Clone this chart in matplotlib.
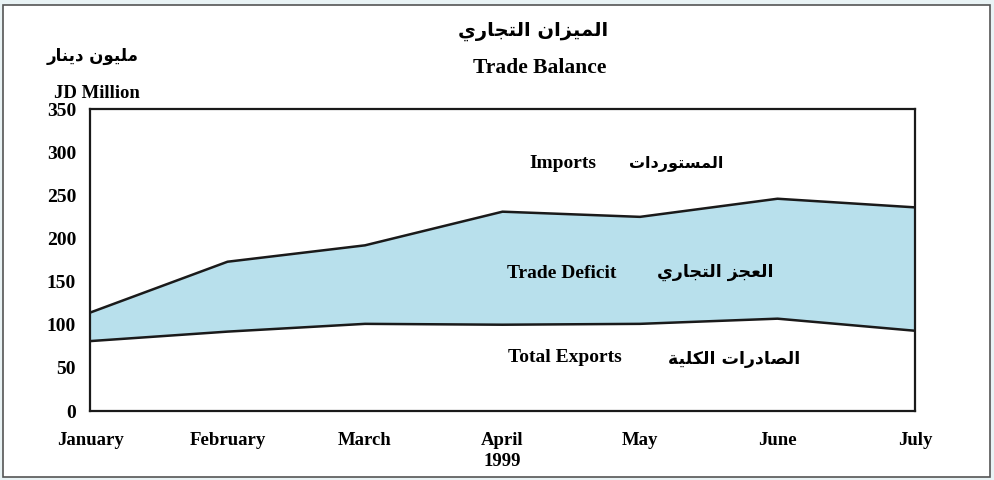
import numpy as np
import matplotlib
matplotlib.use("Agg")
import matplotlib.pyplot as plt
from matplotlib.patches import Rectangle

months = ["January", "February", "March", "April\n1999", "May", "June", "July"]
imports = [114, 173, 192, 231, 225, 246, 236]
exports = [81, 92, 101, 100, 101, 107, 93]
y_ticks = [0, 50, 100, 150, 200, 250, 300, 350]

title_ar = "الميزان التجاري"
title_en = "Trade Balance"
unit_ar = "مليون دينار"
unit_en = "JD Million"
imports_ar = "المستوردات"
deficit_ar = "العجز التجاري"
exports_ar = "الصادرات الكلية"

# presentation forms: isolated, final, initial, medial
FORMS = {
    "ا": ("\uFE8D", "\uFE8E", None, None),
    "ب": ("\uFE8F", "\uFE90", "\uFE91", "\uFE92"),
    "ة": ("\uFE93", "\uFE94", None, None),
    "ت": ("\uFE95", "\uFE96", "\uFE97", "\uFE98"),
    "ج": ("\uFE9D", "\uFE9E", "\uFE9F", "\uFEA0"),
    "د": ("\uFEA9", "\uFEAA", None, None),
    "ر": ("\uFEAD", "\uFEAE", None, None),
    "ز": ("\uFEAF", "\uFEB0", None, None),
    "س": ("\uFEB1", "\uFEB2", "\uFEB3", "\uFEB4"),
    "ص": ("\uFEB9", "\uFEBA", "\uFEBB", "\uFEBC"),
    "ع": ("\uFEC9", "\uFECA", "\uFECB", "\uFECC"),
    "ك": ("\uFED9", "\uFEDA", "\uFEDB", "\uFEDC"),
    "ل": ("\uFEDD", "\uFEDE", "\uFEDF", "\uFEE0"),
    "م": ("\uFEE1", "\uFEE2", "\uFEE3", "\uFEE4"),
    "ن": ("\uFEE5", "\uFEE6", "\uFEE7", "\uFEE8"),
    "و": ("\uFEED", "\uFEEE", None, None),
    "ي": ("\uFEF1", "\uFEF2", "\uFEF3", "\uFEF4"),
}
NON_JOIN = set("ادرزوة")


def shape(text):
    out = []
    for i, ch in enumerate(text):
        if ch not in FORMS:
            out.append(ch)
            continue
        prev = text[i - 1] if i > 0 else ""
        nxt = text[i + 1] if i + 1 < len(text) else ""
        jp = prev in FORMS and prev not in NON_JOIN
        jn = nxt in FORMS and ch not in NON_JOIN
        iso, fin, ini, med = FORMS[ch]
        if jp and jn:
            out.append(med)
        elif jp:
            out.append(fin)
        elif jn:
            out.append(ini)
        else:
            out.append(iso)
    return "".join(out)[::-1]


W, H = 994, 480
serif = ["Liberation Serif", "DejaVu Serif"]
arab = ["DejaVu Sans"]

fig = plt.figure(figsize=(W / 100, H / 100), dpi=100, facecolor="#e9f3f5")
fig.patches.append(Rectangle((3 / W, 1 - 477 / H), 987 / W, 472 / H, transform=fig.transFigure,
                             facecolor="white", edgecolor="#555555", linewidth=1.2, zorder=-1))

ax = fig.add_axes([90 / W, 1 - 411 / H, 825 / W, 302 / H])
x = np.arange(len(months))
ax.fill_between(x, exports, imports, color="#b8e0ec", linewidth=0)
ax.plot(x, imports, color="#1a1a1a", linewidth=1.8)
ax.plot(x, exports, color="#1a1a1a", linewidth=1.8)

ax.set_xlim(0, len(months) - 1)
ax.set_ylim(0, 350)
ax.set_yticks(y_ticks)
ax.set_yticklabels([str(v) for v in y_ticks], family=serif, fontweight="bold", fontsize=14)
ax.set_xticks(x)
ax.set_xticklabels(months, family=serif, fontweight="bold", fontsize=13.5, linespacing=1.35)
ax.tick_params(axis="both", length=0)
ax.tick_params(axis="y", pad=10)
ax.tick_params(axis="x", pad=15)
for s in ax.spines.values():
    s.set_linewidth(1.6)
    s.set_color("#1a1a1a")

def ftext(px, py, s, **kw):
    fig.text(px / W, 1 - py / H, s, ha="center", va="center", **kw)

ftext(533, 31, shape(title_ar), family=arab, fontweight="bold", fontsize=14)
ftext(540, 68, title_en, family=serif, fontsize=15.5, fontweight="bold")
ftext(93, 56, shape(unit_ar), family=arab, fontweight="bold", fontsize=12)
ftext(97, 93, unit_en, family=serif, fontweight="bold", fontsize=13.5)

ftext(563, 163, "Imports", family=serif, fontweight="bold", fontsize=14)
ftext(676, 164, shape(imports_ar), family=arab, fontweight="bold", fontsize=11.5)
ftext(562, 273, "Trade Deficit", family=serif, fontweight="bold", fontsize=14)
ftext(715, 272, shape(deficit_ar), family=arab, fontweight="bold", fontsize=12.5)
ftext(565, 358, "Total Exports", family=serif, fontweight="bold", fontsize=14)
ftext(734, 359, shape(exports_ar), family=arab, fontweight="bold", fontsize=12.5)

fig.savefig("out.png", dpi=100, facecolor=fig.get_facecolor())
